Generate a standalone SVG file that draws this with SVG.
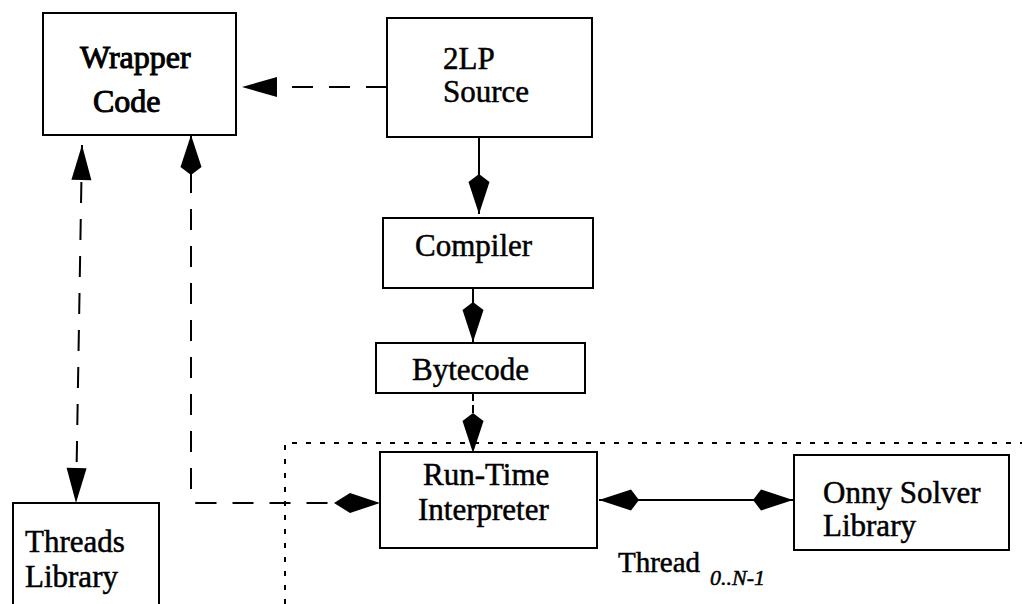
<svg xmlns="http://www.w3.org/2000/svg" width="1022" height="604" viewBox="0 0 1022 604">
  <style>
    .box { fill: #fff; stroke: #000; stroke-width: 2; }
    .lbl { font-family: "Liberation Serif", "Times New Roman", serif; font-size: 31px; fill: #000; stroke: #000; stroke-width: 0.5; }
    .heavy { font-size: 32px; stroke-width: 1; }
    .cap { font-size: 29px; }
    .sub { font-style: italic; font-size: 22px; }
    .solid { fill: none; stroke: #000; stroke-width: 2; }
    .dash { fill: none; stroke: #000; stroke-width: 2; stroke-dasharray: 21 16; }
    .short { fill: none; stroke: #000; stroke-width: 2; stroke-dasharray: 8 4; }
    .dots { fill: none; stroke: #000; stroke-width: 2; stroke-dasharray: 5 9; }
  </style>
  <defs>
    <!-- flat-backed triangular head -->
    <marker id="tri" markerUnits="userSpaceOnUse" markerWidth="40" markerHeight="24" viewBox="0 -12 36 24" refX="35" refY="0" orient="auto-start-reverse">
      <path d="M0,-10 L35,0 L0,10 Z" fill="#000"/>
    </marker>
    <!-- kite-shaped head -->
    <marker id="kite" markerUnits="userSpaceOnUse" markerWidth="44" markerHeight="24" viewBox="0 -12 42 24" refX="40" refY="0" orient="auto-start-reverse">
      <path d="M0,0 L8,-10.5 L40,0 L8,10.5 Z" fill="#000"/>
    </marker>
    <marker id="kiteL" markerUnits="userSpaceOnUse" markerWidth="50" markerHeight="24" viewBox="0 -12 48 24" refX="46" refY="0" orient="auto-start-reverse">
      <path d="M0,0 L16,-10 L46,0 L16,10 Z" fill="#000"/>
    </marker>
  </defs>

  <!-- thread boundary -->
  <path id="thread-boundary" class="dots" d="M285,604 L285,443 L1022,443"/>

  <g id="connectors">
    <path class="dash" d="M387,87 L242,87" marker-end="url(#tri)"/>
    <path class="dash" d="M82,145 L76,503" marker-start="url(#tri)" marker-end="url(#tri)"/>
    <path class="dash" d="M191,135 L191,497 Q191,503 197,503 L380,503" marker-start="url(#kite)" marker-end="url(#kiteL)"/>
    <path class="solid" d="M479,137 L479,214" marker-end="url(#kite)"/>
    <path class="solid" d="M473,288 L473,342" marker-end="url(#kite)"/>
    <path class="short" d="M473,393 L473,453" marker-end="url(#kite)"/>
    <path class="solid" d="M599,500 L793,500" marker-start="url(#kite)" marker-end="url(#kite)"/>
  </g>

  <g id="wrapper-code">
    <rect class="box" x="43" y="13" width="193" height="122"/>
    <text class="lbl heavy" x="80" y="68">Wrapper</text>
    <text class="lbl heavy" x="93" y="112">Code</text>
  </g>

  <g id="source-2lp">
    <rect class="box" x="387" y="18" width="205" height="119"/>
    <text class="lbl" x="443" y="69">2LP</text>
    <text class="lbl" x="443" y="102">Source</text>
  </g>

  <g id="compiler">
    <rect class="box" x="383" y="218" width="210" height="70"/>
    <text class="lbl" x="415" y="256">Compiler</text>
  </g>

  <g id="bytecode">
    <rect class="box" x="376" y="343" width="209" height="50"/>
    <text class="lbl" x="412" y="380">Bytecode</text>
  </g>

  <g id="interpreter">
    <rect class="box" x="380" y="452" width="217" height="96"/>
    <text class="lbl" x="423" y="485">Run-Time</text>
    <text class="lbl" x="418" y="520">Interpreter</text>
  </g>

  <g id="solver">
    <rect class="box" x="794" y="455" width="215" height="95"/>
    <text class="lbl" x="823" y="503">Onny Solver</text>
    <text class="lbl" x="823" y="536">Library</text>
  </g>

  <g id="threads">
    <rect class="box" x="13" y="503" width="146" height="110"/>
    <text class="lbl" x="25" y="552">Threads</text>
    <text class="lbl" x="25" y="587">Library</text>
  </g>

  <text id="thread-label" class="lbl cap" x="618" y="572">Thread<tspan class="sub" x="710" dy="13">0..N-1</tspan></text>
</svg>
